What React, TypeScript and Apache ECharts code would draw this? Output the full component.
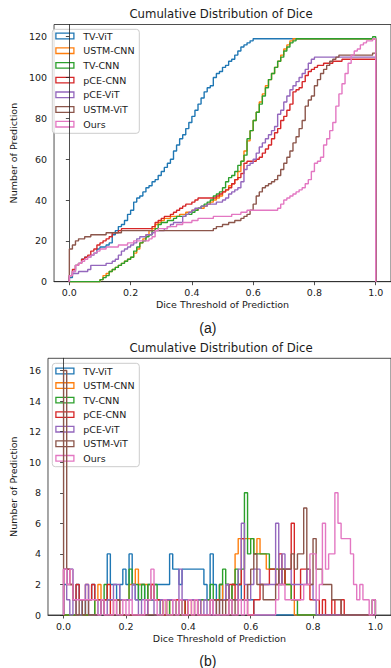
import React, { useEffect, useRef } from "react";
import * as echarts from "echarts";

// ---- data ----
const seriesNames = ["TV-ViT", "USTM-CNN", "TV-CNN", "pCE-CNN", "pCE-ViT", "USTM-ViT", "Ours"];
const seriesColors = ["#1f77b4", "#ff7f0e", "#2ca02c", "#d62728", "#9467bd", "#8c564b", "#e377c2"];

// histogram bins: 100 bins between 0 and 1
const binStart = 0;
const binEnd = 1;

const xTicks = [0, 0.2, 0.4, 0.6, 0.8, 1.0];
const yTicksCum = [0, 20, 40, 60, 80, 100, 120];
const yTicksHist = [0, 2, 4, 6, 8, 10, 12, 14, 16];

// per-bin counts (bins of width 0.01)
const tvVit = [
  2, 3, 3, 1, 2, 1, 0, 1, 1, 2,
  1, 0, 1, 1, 4, 2, 2, 1, 2, 3,
  2, 4, 2, 1, 2, 2, 1, 2, 1, 2,
  2, 2, 2, 2, 4, 3, 3, 2, 3, 3,
  3, 3, 3, 3, 3, 2, 1, 4, 2, 1,
  2, 1, 2, 1, 2, 2, 2, 1, 1, 1,
  1, 0, 0, 0, 0, 0, 0, 0, 0, 0,
  0, 0, 0, 0, 0, 0, 0, 0, 0, 0,
  0, 0, 0, 0, 0, 0, 0, 0, 0, 0,
  0, 0, 0, 0, 0, 0, 0, 0, 0, 0,
];
const ustmCnn = [
  0, 0, 0, 0, 0, 0, 0, 0, 0, 0,
  1, 2, 1, 1, 1, 1, 1, 1, 1, 1,
  1, 2, 2, 3, 2, 2, 2, 1, 2, 1,
  1, 1, 0, 1, 0, 0, 1, 0, 1, 0,
  1, 0, 1, 0, 1, 1, 1, 1, 1, 1,
  2, 1, 2, 1, 2, 4, 5, 5, 5, 5,
  5, 4, 5, 4, 4, 3, 3, 3, 3, 3,
  3, 2, 2, 1, 0, 0, 0, 0, 0, 0,
  0, 0, 0, 0, 0, 0, 0, 0, 0, 0,
  0, 0, 0, 0, 0, 0, 0, 0, 0, 0,
];
const tvCnn = [
  0, 0, 0, 0, 0, 0, 0, 0, 0, 0,
  1, 1, 1, 2, 1, 1, 1, 1, 1, 1,
  1, 3, 2, 2, 1, 2, 1, 2, 1, 2,
  1, 0, 1, 0, 1, 1, 0, 0, 1, 0,
  1, 1, 1, 1, 1, 1, 1, 2, 1, 1,
  2, 3, 2, 1, 2, 3, 2, 3, 8, 4,
  5, 4, 4, 4, 4, 4, 3, 3, 3, 2,
  3, 2, 2, 1, 1, 0, 0, 0, 0, 0,
  0, 0, 0, 0, 0, 0, 0, 0, 0, 0,
  0, 0, 0, 0, 0, 0, 0, 0, 0, 1,
];
const pceCnn = [
  3, 3, 2, 1, 2, 1, 1, 2, 1, 2,
  1, 1, 1, 1, 2, 0, 1, 1, 0, 0,
  0, 0, 0, 0, 0, 0, 0, 1, 2, 1,
  1, 1, 0, 1, 1, 1, 1, 1, 1, 0,
  1, 1, 1, 0, 0, 0, 0, 0, 1, 1,
  1, 1, 1, 2, 2, 1, 2, 5, 1, 0,
  0, 1, 1, 2, 2, 2, 3, 3, 2, 4,
  2, 3, 3, 6, 1, 1, 3, 3, 2, 1,
  1, 1, 0, 1, 0, 0, 1, 0, 0, 1,
  0, 0, 0, 0, 0, 0, 0, 0, 0, 0,
];
const pceVit = [
  3, 1, 0, 1, 0, 0, 1, 2, 0, 0,
  0, 0, 1, 0, 1, 1, 2, 2, 1, 1,
  1, 1, 2, 1, 0, 1, 0, 1, 1, 0,
  0, 1, 1, 1, 1, 0, 0, 3, 1, 1,
  1, 1, 0, 1, 0, 1, 0, 0, 1, 0,
  1, 1, 2, 1, 1, 1, 3, 6, 2, 1,
  2, 3, 3, 2, 2, 2, 2, 2, 6, 2,
  4, 3, 3, 2, 2, 2, 2, 2, 3, 2,
  1, 0, 0, 0, 0, 0, 0, 0, 0, 0,
  0, 0, 0, 0, 0, 0, 0, 0, 0, 0,
];
const ustmVit = [
  16, 2, 2, 1, 0, 1, 0, 1, 0, 0,
  0, 0, 1, 0, 0, 0, 0, 1, 0, 0,
  0, 0, 0, 0, 0, 0, 0, 0, 0, 0,
  0, 0, 0, 0, 0, 0, 0, 0, 0, 0,
  0, 0, 0, 0, 0, 0, 0, 1, 1, 0,
  1, 0, 1, 0, 1, 0, 1, 1, 1, 2,
  3, 4, 2, 2, 1, 1, 1, 1, 2, 3,
  3, 3, 3, 4, 3, 4, 4, 7, 3, 2,
  5, 3, 3, 2, 2, 2, 1, 1, 1, 0,
  0, 0, 0, 0, 0, 0, 0, 0, 0, 1,
];
const ours = [
  3, 2, 3, 1, 1, 1, 1, 1, 1, 1,
  1, 0, 1, 0, 0, 0, 1, 0, 0, 1,
  0, 1, 0, 0, 0, 0, 1, 1, 3, 1,
  0, 0, 1, 0, 0, 1, 0, 1, 0, 0,
  1, 0, 1, 0, 0, 0, 0, 1, 0, 0,
  0, 0, 0, 1, 0, 0, 1, 0, 1, 0,
  0, 0, 0, 0, 0, 0, 0, 0, 1, 2,
  2, 1, 1, 1, 1, 1, 1, 2, 2, 4,
  4, 1, 2, 6, 3, 4, 4, 8, 6, 5,
  5, 5, 4, 2, 1, 2, 1, 1, 0, 1,
];

const seriesCounts = [tvVit, ustmCnn, tvCnn, pceCnn, pceVit, ustmVit, ours];

// ---- helpers ----
function cumulative(counts: number[]): number[] {
  const out: number[] = [];
  let s = 0;
  for (const c of counts) {
    s += c;
    out.push(s);
  }
  return out;
}

// step-histogram outline (like matplotlib histtype="step")
function outline(counts: number[]): [number, number][] {
  const w = (binEnd - binStart) / counts.length;
  const pts: [number, number][] = [[binStart, 0]];
  counts.forEach((c, i) => pts.push([binStart + i * w, c]));
  pts.push([binEnd, counts[counts.length - 1]]);
  pts.push([binEnd, 0]);
  return pts;
}

const FONT = "DejaVu Sans";
const TXT = "#1a1a1a";

function makeXAxis(gridIndex: number) {
  return {
    gridIndex,
    type: "value",
    min: -0.05,
    max: 1.05,
    name: "Dice Threshold of Prediction",
    nameLocation: "middle",
    nameGap: 18,
    nameTextStyle: { fontFamily: FONT, fontSize: 9.5, color: TXT },
    axisLine: { show: true, onZero: false, lineStyle: { color: "#222", width: 0.8 } },
    axisTick: { show: true, customValues: xTicks, length: 3.5, lineStyle: { color: "#222", width: 0.8 } },
    axisLabel: {
      customValues: xTicks,
      formatter: (v: number) => v.toFixed(1),
      margin: 6,
      fontFamily: FONT,
      fontSize: 9.5,
      color: TXT,
    },
    splitLine: { show: false },
  };
}

function makeYAxis(gridIndex: number, max: number, ticks: number[], gap: number) {
  return {
    gridIndex,
    type: "value",
    min: 0,
    max,
    name: "Number of Prediction",
    nameLocation: "middle",
    nameGap: gap,
    nameTextStyle: { fontFamily: FONT, fontSize: 9.5, color: TXT },
    axisLine: { show: true, lineStyle: { color: "#222", width: 0.8 } },
    axisTick: { show: true, customValues: ticks, length: 3.5, lineStyle: { color: "#222", width: 0.8 } },
    axisLabel: {
      customValues: ticks,
      formatter: (v: number) => String(v),
      margin: 7,
      fontFamily: FONT,
      fontSize: 9.5,
      color: TXT,
    },
    splitLine: { show: false },
  };
}

// legend box (matplotlib style: semi-transparent frame, outlined patch handles)
function graphicLegend(boxTop: number, firstCenter: number, step: number, boxHeight: number) {
  const children: any[] = [
    {
      type: "rect",
      shape: { x: 52.3, y: boxTop, width: 87, height: boxHeight, r: 3 },
      style: { fill: "rgba(255,255,255,0.8)", stroke: "#cccccc", lineWidth: 1 },
    },
  ];
  seriesNames.forEach((n, i) => {
    const cy = firstCenter + i * step;
    children.push({
      type: "rect",
      shape: { x: 55.9, y: cy - 2.8, width: 18, height: 5.6 },
      style: { fill: "none", stroke: seriesColors[i], lineWidth: 1.3 },
    });
    children.push({
      type: "text",
      x: 83.3,
      y: cy,
      style: { text: n, fontFamily: FONT, fontSize: 9.5, fill: TXT, align: "left", verticalAlign: "middle" },
    });
  });
  return { type: "group", z: 100, children };
}

export default function App() {
  const ref = useRef<HTMLDivElement>(null);

  useEffect(() => {
    if (!ref.current) return;
    const chart = echarts.init(ref.current, undefined, { renderer: "svg" });

    const series: any[] = [];
    seriesCounts.forEach((counts, i) => {
      series.push({
        name: seriesNames[i],
        type: "line",
        xAxisIndex: 0,
        yAxisIndex: 0,
        data: outline(cumulative(counts)),
        step: "end",
        symbol: "none",
        showSymbol: false,
        lineStyle: { color: seriesColors[i], width: 1.4 },
        itemStyle: { color: seriesColors[i] },
        clip: true,
      });
    });
    seriesCounts.forEach((counts, i) => {
      series.push({
        name: seriesNames[i],
        type: "line",
        xAxisIndex: 1,
        yAxisIndex: 1,
        data: outline(counts),
        step: "end",
        symbol: "none",
        showSymbol: false,
        lineStyle: { color: seriesColors[i], width: 1.4 },
        itemStyle: { color: seriesColors[i] },
        clip: true,
      });
    });

    chart.setOption({
      animation: false,
      backgroundColor: "#ffffff",
      grid: [
        { left: 47, top: 24.5, width: 344.6, height: 257.2, show: true, borderColor: "#222", borderWidth: 0.8 },
        { left: 47, top: 358.3, width: 344.6, height: 256.7, show: true, borderColor: "#222", borderWidth: 0.8 },
      ],
      xAxis: [makeXAxis(0), makeXAxis(1)],
      yAxis: [makeYAxis(0, 126, yTicksCum, 28), makeYAxis(1, 16.8, yTicksHist, 23)],
      series,
      graphic: [
        graphicLegend(29.3, 36, 14.7, 104),
        graphicLegend(363.3, 371, 14.55, 103.4),
        {
          type: "text",
          x: 221,
          y: 14,
          style: { text: "Cumulative Distribution of Dice", fontFamily: FONT, fontSize: 11.7, fill: TXT, align: "center", verticalAlign: "middle" },
        },
        {
          type: "text",
          x: 221,
          y: 348,
          style: { text: "Cumulative Distribution of Dice", fontFamily: FONT, fontSize: 11.7, fill: TXT, align: "center", verticalAlign: "middle" },
        },
        {
          type: "text",
          x: 207.8,
          y: 327.7,
          style: { text: "(a)", fontFamily: "Liberation Sans", fontSize: 14, fill: TXT, align: "center", verticalAlign: "middle" },
        },
        {
          type: "text",
          x: 207.8,
          y: 661.2,
          style: { text: "(b)", fontFamily: "Liberation Sans", fontSize: 14, fill: TXT, align: "center", verticalAlign: "middle" },
        },
      ],
    });

    return () => chart.dispose();
  }, []);

  return (
    <div
      ref={ref}
      style={{ position: "absolute", left: 0, top: 0, width: 391, height: 668, background: "#fff" }}
    />
  );
}
